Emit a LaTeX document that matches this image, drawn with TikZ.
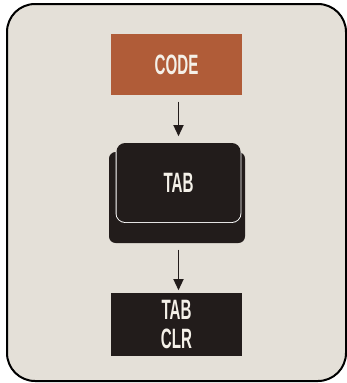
\documentclass[tikz,border=0pt]{standalone}
\usepackage{fontspec}
\newfontfamily\keyfont[FakeStretch=0.54]{Liberation Sans}
\usetikzlibrary{arrows.meta}
\definecolor{keybg}{HTML}{E4E0D8}
\definecolor{keyorange}{HTML}{B05C38}
\definecolor{keydark}{HTML}{221C1B}
\definecolor{keytext}{HTML}{F4F0E8}

\begin{document}
\begin{tikzpicture}[x=0.75pt, y=-0.75pt,
    keybox/.style={fill=keydark, inner sep=0pt, outer sep=0pt, align=center,
                   text=keytext, font=\keyfont\bfseries\fontsize{21}{21}\selectfont},
    codebox/.style={keybox, fill=keyorange, minimum width=98.25pt, minimum height=45.75pt},
    clrbox/.style={keybox, minimum width=98.25pt, minimum height=47.25pt},
    capbox/.style={keybox, rounded corners=6.5pt, minimum width=93pt, minimum height=59.25pt},
    basebox/.style={keybox, rounded corners=5pt, minimum width=102pt, minimum height=68.25pt},
    arrow/.style={-{Triangle[length=8.5pt, width=7.5pt]}, draw=keydark, line width=1.4pt}
  ]
    \useasboundingbox (0,0) rectangle (347,383);
    \draw[fill=keybg, line width=1.5pt, rounded corners=21pt] (7,4) rectangle (346,381);

    \node[codebox] (code) at (176.5,64.5) {CODE};
    \node[basebox] (tabbase) at (177,197.5) {};
    % white rim only where the cap sits on the base
    \begin{scope}
      \clip (tabbase.north west) rectangle (tabbase.south east);
      \node[capbox, draw=white, line width=1.4pt] at (178.5,182.5) {};
    \end{scope}
    \node[capbox]  (tab) at (178.5,182.5) {TAB};
    \node[clrbox]  (clr) at (176.5,324.5) {TAB\\CLR};

    \draw[arrow, shorten <=5pt, shorten >=5pt] (code.south -| tab.north) -- (tab.north);
    \draw[arrow, shorten <=5pt, shorten >=2pt] (tabbase.south -| tab.north) -- (clr.north -| tab.north);
  \end{tikzpicture}
\end{document}
